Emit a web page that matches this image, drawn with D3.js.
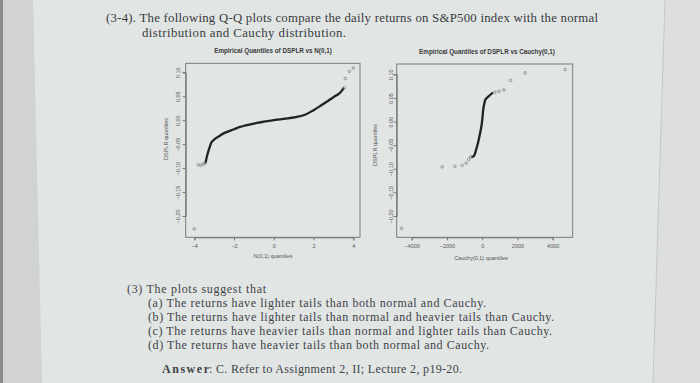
<!DOCTYPE html>
<html>
<head>
<meta charset="utf-8">
<script src="https://cdn.jsdelivr.net/npm/d3@7"></script>
<style>
  html, body { margin: 0; padding: 0; background: #e1e5e4; }
  svg { display: block; }
</style>
</head>
<body>
<div id="chart"></div>
<script>
// ---- data ----
const yTicks = [-0.20, -0.15, -0.10, -0.05, 0.00, 0.05, 0.10];
const normTicks = [-4, -2, 0, 2, 4];
const cauchyTicks = [-4000, -2000, 0, 2000, 4000];

// dense body of the normal Q-Q plot
const normBodyX = [-3.43, -3.33, -3.2, -3.13, -2.96, -2.7, -2.55, -2.0, -1.7, -1.0, 0, 1.16, 1.6, 2.0, 2.35, 2.68, 3.0, 3.3, 3.5];
const normBodyY = [-0.088, -0.070, -0.053, -0.046, -0.039, -0.032, -0.028, -0.019, -0.014, -0.007, 0.0, 0.007, 0.012, 0.021, 0.030, 0.039, 0.048, 0.056, 0.066];
// sparse tail points
const normTailX = [-4.0, -3.8, -3.67, -3.55, -3.47, 3.55, 3.6, 3.8, 4.0];
const normTailY = [-0.227, -0.093, -0.094, -0.092, -0.090, 0.068, 0.087, 0.102, 0.109];

// dense body of the Cauchy Q-Q plot
const cauchyBodyX = [-570, -470, -340, -230, -120, -40, 20, 60, 120, 190, 380, 570];
const cauchyBodyY = [-0.075, -0.073, -0.059, -0.044, -0.025, -0.009, 0.010, 0.026, 0.038, 0.047, 0.054, 0.060];
const cauchyTailX = [-4580, -2270, -1550, -1140, -910, -760, -650, 720, 950, 1230, 1610, 2430, 4700];
const cauchyTailY = [-0.226, -0.096, -0.095, -0.093, -0.088, -0.080, -0.075, 0.062, 0.064, 0.067, 0.087, 0.103, 0.110];

const headerLines = [
  "(3-4). The following Q-Q plots compare the daily returns on S&P500 index with the normal",
  "distribution and Cauchy distribution."
];
const questionLine = "(3) The plots suggest that";
const options = [
  "(a) The returns have lighter tails than both normal and Cauchy.",
  "(b) The returns have lighter tails than normal and heavier tails than Cauchy.",
  "(c) The returns have heavier tails than normal and lighter tails than Cauchy.",
  "(d) The returns have heavier tails than both normal and Cauchy."
];
const answerLabel = "Answer";
const answerText = ": C. Refer to Assignment 2, II; Lecture 2, p19-20.";

const W = 700, H = 383;
const svg = d3.select("#chart").append("svg").attr("width", W).attr("height", H);

// photographed page background
svg.append("rect").attr("width", W).attr("height", H).attr("fill", "#e1e5e4");
svg.append("polygon").attr("points", "0,0 33,0 42,383 0,383").attr("fill", "#d0d3d2");
svg.append("rect").attr("width", 3).attr("height", H).attr("fill", "#8a8c8c");
svg.append("polygon").attr("points", "665,0 700,0 700,383 653,383").attr("fill", "#dcdfde");
svg.append("line").attr("x1", 665).attr("y1", 0).attr("x2", 653).attr("y2", 383)
  .attr("stroke", "#c4c7c6").attr("stroke-width", 1);

const serif = "'Liberation Serif', 'DejaVu Serif', serif";
const sans = "'Liberation Sans', Arial, sans-serif";

const head = svg.append("g").attr("font-family", serif).attr("font-size", 12.8).attr("fill", "#383b3e");
head.append("text").attr("x", 106).attr("y", 22)
  .attr("textLength", 492).attr("lengthAdjust", "spacing").text(headerLines[0]);
head.append("text").attr("x", 142).attr("y", 37)
  .attr("textLength", 204).attr("lengthAdjust", "spacing").text(headerLines[1]);

function qqPanel(cfg) {
  const x = d3.scaleLinear().domain(cfg.xDomain).range(cfg.xRange);
  const y = d3.scaleLinear().domain([-0.2, 0.1]).range(cfg.yRange);
  const g = svg.append("g");

  g.append("rect")
    .attr("x", cfg.box[0]).attr("y", cfg.box[1])
    .attr("width", cfg.box[2] - cfg.box[0]).attr("height", cfg.box[3] - cfg.box[1])
    .attr("fill", "none").attr("stroke", "#6f7272").attr("stroke-width", 0.9);

  const xAxis = g.append("g")
    .attr("transform", `translate(0,${cfg.box[3]})`)
    .call(d3.axisBottom(x).tickValues(cfg.xTicks).tickSize(3).tickPadding(3.5)
      .tickFormat(d3.format("d")));
  xAxis.select(".domain").attr("stroke", "#777");
  xAxis.selectAll("line").attr("stroke", "#777");
  xAxis.selectAll("text").attr("font-family", sans).attr("font-size", 5.5).attr("fill", "#555");

  const yAxis = g.append("g")
    .attr("transform", `translate(${cfg.box[0]},0)`)
    .call(d3.axisLeft(y).tickValues(yTicks).tickSize(3).tickFormat(d3.format(".2f")));
  yAxis.select(".domain").attr("stroke", "#777");
  yAxis.selectAll("line").attr("stroke", "#777");
  yAxis.selectAll("text")
    .attr("transform", "rotate(-90)")
    .attr("x", 0).attr("y", -cfg.yLabelOff).attr("dy", 0)
    .attr("text-anchor", "middle")
    .attr("font-family", sans).attr("font-size", 5.5).attr("fill", "#555");

  g.append("text")
    .attr("x", cfg.titleX).attr("y", cfg.box[1] - 10)
    .attr("text-anchor", "middle").attr("font-family", sans).attr("font-weight", "bold")
    .attr("font-size", 6.3).attr("fill", "#3a3a3a").text(cfg.title);

  g.append("text")
    .attr("x", cfg.xLabelPos[0]).attr("y", cfg.xLabelPos[1])
    .attr("text-anchor", "middle").attr("font-family", sans)
    .attr("font-size", 5.5).attr("fill", "#555").text(cfg.xLabel);

  g.append("text")
    .attr("transform", `translate(${cfg.yLabelPos[0]},${cfg.yLabelPos[1]}) rotate(-90)`)
    .attr("text-anchor", "middle").attr("font-family", sans)
    .attr("font-size", 5.5).attr("fill", "#555").text("DSPLR quantiles");

  const body = cfg.bodyX.map((v, i) => [v, cfg.bodyY[i]]);
  const line = d3.line().x(d => x(d[0])).y(d => y(d[1])).curve(d3.curveCatmullRom);
  g.append("path").attr("d", line(body))
    .attr("fill", "none").attr("stroke", "#222").attr("stroke-width", 2.3)
    .attr("stroke-linecap", "round");

  const tails = cfg.tailX.map((v, i) => [v, cfg.tailY[i]]);
  g.selectAll("circle.tail").data(tails).enter().append("circle")
    .attr("class", "tail")
    .attr("cx", d => x(d[0])).attr("cy", d => y(d[1])).attr("r", 1.3)
    .attr("fill", "none").attr("stroke", "#777").attr("stroke-width", 0.7);
}

qqPanel({
  xDomain: [-4, 4], xRange: [194.3, 353.3], yRange: [216, 72.3],
  box: [185.7, 63.3, 360, 237.3], xTicks: normTicks, yLabelOff: 6,
  title: "Empirical Quantiles of DSPLR vs N(0,1)", titleX: 273,
  xLabel: "N(0,1) quantiles", xLabelPos: [273, 258],
  yLabelPos: [168, 139],
  bodyX: normBodyX, bodyY: normBodyY, tailX: normTailX, tailY: normTailY
});

qqPanel({
  xDomain: [-4000, 4000], xRange: [411.7, 552.7], yRange: [216, 74.3],
  box: [396.7, 64, 572.7, 237.3], xTicks: cauchyTicks, yLabelOff: 4,
  title: "Empirical Quantiles of DSPLR vs Cauchy(0,1)", titleX: 487,
  xLabel: "Cauchy(0,1) quantiles", xLabelPos: [481, 260],
  yLabelPos: [377, 145],
  bodyX: cauchyBodyX, bodyY: cauchyBodyY, tailX: cauchyTailX, tailY: cauchyTailY
});

// question text, stretched to the widths measured on the photo
const optionWidths = [338, 406, 404, 341];
const q = svg.append("g").attr("font-family", serif).attr("fill", "#3f4347").attr("font-size", 12);
q.append("text").attr("x", 127).attr("y", 293)
  .attr("textLength", 139).attr("lengthAdjust", "spacing").text(questionLine);
q.selectAll("text.opt").data(options).enter().append("text")
  .attr("class", "opt")
  .attr("x", 148).attr("y", (d, i) => 307 + i * 14)
  .attr("textLength", (d, i) => optionWidths[i]).attr("lengthAdjust", "spacing")
  .text(d => d);
q.append("text").attr("x", 162).attr("y", 373)
  .attr("font-weight", "bold").attr("textLength", 47).attr("lengthAdjust", "spacing")
  .text(answerLabel);
q.append("text").attr("x", 209).attr("y", 373)
  .attr("textLength", 253).attr("lengthAdjust", "spacing").text(answerText);
</script>
</body>
</html>
